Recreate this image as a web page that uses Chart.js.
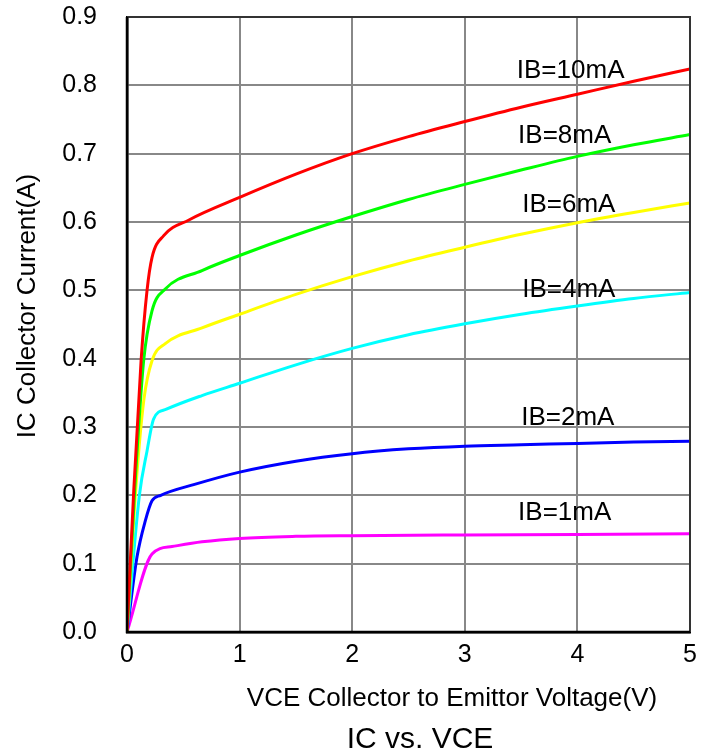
<!DOCTYPE html>
<html>
<head>
<meta charset="utf-8">
<script src="https://cdn.jsdelivr.net/npm/chart.js@4/dist/chart.umd.min.js"></script>
<style>
html,body{margin:0;padding:0;background:#fff;}
#c{display:block;}
</style>
</head>
<body>
<canvas id="c" width="712" height="755"></canvas>
<script>
// ---- data ----
const seriesNames = ["IB=10mA", "IB=8mA", "IB=6mA", "IB=4mA", "IB=2mA", "IB=1mA"];

const vce10 = [0, 0.06, 0.125, 0.178, 0.222, 0.326, 0.55, 1, 1.5, 2, 2.5, 3, 3.5, 4, 4.5, 5];
const ic10  = [0, 0.207, 0.397, 0.50, 0.548, 0.58, 0.603, 0.636, 0.670, 0.700, 0.725, 0.747, 0.768, 0.787, 0.806, 0.824];

const vce8 = [0, 0.068, 0.148, 0.222, 0.34, 0.666, 1, 1.5, 2, 2.5, 3, 3.5, 4, 4.5, 5];
const ic8  = [0, 0.207, 0.397, 0.47, 0.502, 0.529, 0.551, 0.581, 0.608, 0.633, 0.655, 0.676, 0.696, 0.713, 0.728];

const vce6 = [0, 0.077, 0.15, 0.222, 0.34, 0.666, 1, 1.5, 2, 2.5, 3, 3.5, 4, 4.5, 5];
const ic6  = [0, 0.207, 0.34, 0.397, 0.422, 0.445, 0.465, 0.494, 0.520, 0.543, 0.563, 0.582, 0.599, 0.614, 0.628];

const vce4 = [0, 0.11, 0.178, 0.237, 0.35, 0.666, 1, 1.5, 2, 2.5, 3, 3.5, 4, 4.5, 5];
const ic4  = [0, 0.2, 0.265, 0.312, 0.326, 0.346, 0.364, 0.391, 0.415, 0.435, 0.451, 0.465, 0.477, 0.488, 0.497];

const vce2 = [0, 0.089, 0.163, 0.222, 0.3, 0.6, 1, 1.5, 2, 2.5, 3, 3.5, 4, 4.5, 5];
const ic2  = [0, 0.11, 0.163, 0.192, 0.2, 0.216, 0.234, 0.25, 0.261, 0.268, 0.272, 0.274, 0.276, 0.278, 0.279];

const vce1 = [0, 0.222, 0.4, 0.666, 1, 1.5, 2, 3, 4, 5];
const ic1  = [0, 0.114, 0.125, 0.132, 0.137, 0.140, 0.141, 0.142, 0.1427, 0.1437];

// label anchor (data coordinates) for each curve name
const labelVce = [3.94, 3.887, 3.924, 3.924, 3.915, 3.887];
const labelIc  = [0.821, 0.726, 0.625, 0.501, 0.313, 0.175];

const xTicks = [0, 1, 2, 3, 4, 5];
const yTicks = [0, 0.1, 0.2, 0.3, 0.4, 0.5, 0.6, 0.7, 0.8, 0.9];

const xTitle = "VCE Collector to Emittor Voltage(V)";
const yTitle = "IC Collector Current(A)";
const chartTitle = "IC vs. VCE";

// ---- build ----
const colors = ["#ff0000", "#00ff00", "#ffff00", "#00ffff", "#0000ff", "#ff00ff"];
const xs = [vce10, vce8, vce6, vce4, vce2, vce1];
const ys = [ic10, ic8, ic6, ic4, ic2, ic1];
const FONT = "'Liberation Sans', Arial, sans-serif";

const datasets = seriesNames.map((n, i) => ({
  label: n,
  data: xs[i].map((x, k) => ({x: x, y: ys[i][k]})),
  showLine: true,
  borderColor: colors[i],
  backgroundColor: colors[i],
  borderWidth: 3,
  pointRadius: 0,
  cubicInterpolationMode: 'monotone',
  fill: false,
  order: i
}));

const decor = {
  id: 'decor',
  afterDatasetsDraw(chart) {
    const ctx = chart.ctx, a = chart.chartArea;
    const xs_ = chart.scales.x, ys_ = chart.scales.y;
    ctx.save();
    // frame
    ctx.strokeStyle = '#333';
    ctx.lineWidth = 2;
    ctx.beginPath();
    ctx.moveTo(a.left, a.top); ctx.lineTo(a.right, a.top); ctx.lineTo(a.right, a.bottom);
    ctx.stroke();
    ctx.strokeStyle = '#000';
    ctx.lineWidth = 2.5;
    ctx.beginPath();
    ctx.moveTo(a.left, a.top); ctx.lineTo(a.left, a.bottom); ctx.lineTo(a.right, a.bottom);
    ctx.stroke();
    // curve labels
    ctx.fillStyle = '#000';
    ctx.font = "26px " + FONT;
    ctx.textAlign = 'center';
    ctx.textBaseline = 'middle';
    seriesNames.forEach((n, i) => {
      ctx.fillText(n, xs_.getPixelForValue(labelVce[i]), ys_.getPixelForValue(labelIc[i]));
    });
    // axis titles and chart title
    ctx.font = "26px " + FONT;
    ctx.fillText(xTitle, a.left + 325, a.bottom + 67);
    ctx.font = "30px " + FONT;
    ctx.fillText(chartTitle, a.left + 293, a.bottom + 108);
    ctx.font = "26px " + FONT;
    ctx.translate(28, 306);
    ctx.rotate(-Math.PI / 2);
    ctx.fillText(yTitle, 0, 0);
    ctx.restore();
  }
};

new Chart(document.getElementById('c'), {
  type: 'scatter',
  data: { datasets },
  options: {
    responsive: false,
    animation: false,
    devicePixelRatio: 1,
    layout: { padding: { top: 17, right: 22, left: 0, bottom: 0 } },
    plugins: { legend: { display: false }, tooltip: { enabled: false }, title: { display: false } },
    scales: {
      x: {
        type: 'linear', min: 0, max: 5,
        afterBuildTicks: s => { s.ticks = xTicks.map(v => ({value: v})); },
        afterFit: s => { s.height = 123; },
        ticks: { color: '#000', font: { family: FONT, size: 25 }, padding: 0, callback: v => String(v) },
        grid: { color: '#888', lineWidth: 2, drawTicks: true, tickLength: 8, tickColor: 'rgba(0,0,0,0)' },
        border: { display: true, color: '#000', width: 2.5 }
      },
      y: {
        type: 'linear', min: 0, max: 0.9,
        afterBuildTicks: s => { s.ticks = yTicks.map(v => ({value: v})); },
        afterFit: s => { s.width = 127; },
        ticks: { color: '#000', font: { family: FONT, size: 25 }, padding: 0, callback: v => Number(v).toFixed(1) },
        grid: { color: '#888', lineWidth: 2, drawTicks: true, tickLength: 30, tickColor: 'rgba(0,0,0,0)' },
        border: { display: true, color: '#000', width: 2.5 }
      }
    }
  },
  plugins: [decor]
});
</script>
</body>
</html>
